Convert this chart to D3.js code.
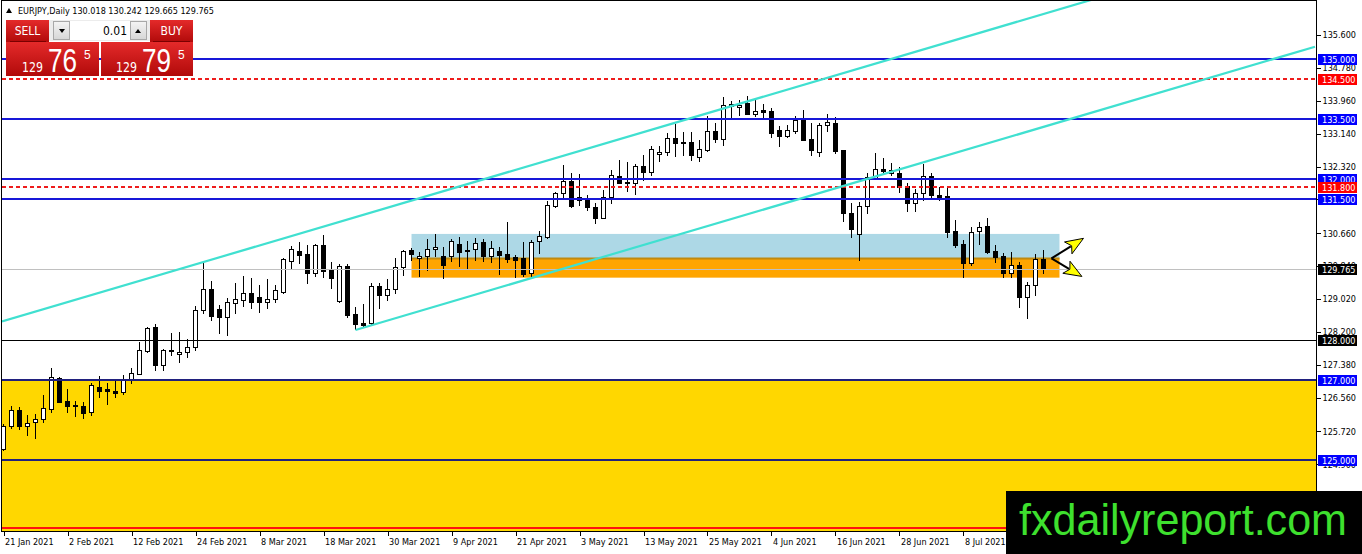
<!DOCTYPE html>
<html>
<head>
<meta charset="utf-8">
<script src="https://cdn.jsdelivr.net/npm/d3@7"></script>
<style>
html, body { margin: 0; padding: 0; background: #fff; overflow: hidden; }
svg { display: block; font-family: "DejaVu Sans Condensed", "DejaVu Sans", sans-serif; font-stretch: condensed; }
</style>
</head>
<body>
<svg id="chart" width="1362" height="554"></svg>
<script>
// daily EURJPY bars, 21 Jan 2021 .. 22 Jul 2021
var opens = [125.28,125.84,126.25,125.86,125.95,126.03,126.27,127.04,126.48,126.38,
  126.35,126.19,126.82,126.77,126.73,126.69,127.00,127.15,127.73,128.33,
  127.37,127.75,127.64,127.69,127.81,128.74,129.26,128.76,128.58,128.91,
  128.99,129.16,129.06,128.94,129.01,129.20,129.97,130.21,130.14,129.66,
  130.36,129.74,128.98,129.84,128.64,128.43,128.41,129.34,129.12,129.27,
  129.81,130.24,130.03,130.08,130.26,130.09,130.09,130.39,130.24,130.26,
  130.45,130.09,130.22,130.14,130.07,130.03,129.66,130.47,130.56,131.34,
  131.65,131.97,131.49,131.54,131.30,131.04,131.57,132.08,131.93,131.90,
  132.33,132.18,132.63,132.67,133.02,132.94,132.92,132.56,132.73,133.21,
  133.01,133.83,133.80,133.90,133.62,133.73,133.71,133.23,133.09,133.21,
  133.48,133.00,132.67,133.36,133.41,132.73,131.15,130.64,131.34,132.00,
  132.25,132.17,132.17,131.83,131.40,131.65,132.08,131.60,131.59,130.72,
  130.39,129.91,130.71,130.84,130.21,130.09,129.67,129.86,129.06,129.37,
  130.018];
var highs = [125.90,126.35,126.33,126.13,126.15,126.62,127.30,127.07,126.77,126.48,
  126.46,126.92,127.10,126.92,127.02,127.12,127.29,127.95,128.33,128.40,
  127.77,128.16,128.20,128.01,128.84,129.91,129.47,128.87,129.04,129.41,
  129.59,129.53,129.37,129.51,129.37,130.03,130.34,130.45,130.36,130.39,
  130.61,129.95,129.89,129.89,128.81,128.89,129.42,129.41,129.51,130.05,
  130.24,130.28,130.20,130.51,130.63,130.32,130.51,130.56,130.47,130.53,
  130.51,130.47,130.32,130.94,130.11,130.45,130.49,130.72,131.47,131.69,
  132.36,132.15,132.13,131.61,131.40,131.74,132.23,132.48,132.43,132.38,
  132.61,132.82,132.82,133.16,133.38,133.19,133.19,132.99,133.58,133.40,
  134.05,133.96,133.98,134.08,133.98,133.88,133.77,133.33,133.36,133.58,
  133.73,133.40,133.40,133.63,133.56,132.73,131.40,131.44,132.15,132.66,
  132.52,132.40,132.30,131.92,131.75,132.38,132.15,131.82,131.80,130.99,
  130.49,130.81,130.94,131.03,130.36,130.16,130.20,129.95,129.45,130.14,
  130.242];
var lows = [125.25,125.80,125.77,125.63,125.55,125.94,126.21,126.46,126.21,126.09,
  126.04,126.13,126.58,126.39,126.58,126.65,126.93,127.15,127.70,127.25,
  127.25,127.62,127.45,127.58,127.75,128.68,128.49,128.18,128.12,128.68,
  128.84,128.79,128.70,128.79,128.95,129.16,129.76,129.91,129.42,129.59,
  129.56,129.28,128.95,128.56,128.28,128.35,128.37,128.79,128.99,129.16,
  129.62,129.99,129.60,129.74,130.09,129.53,129.97,129.84,129.76,129.99,
  129.97,129.95,129.64,129.95,129.57,129.59,129.57,130.16,130.53,131.32,
  131.55,131.32,131.36,131.24,130.92,131.03,131.42,131.90,131.72,131.63,
  131.99,132.11,132.47,132.61,132.58,132.61,132.48,132.47,132.71,132.94,
  132.86,133.56,133.60,133.62,133.58,133.56,133.06,132.83,133.06,133.15,
  132.98,132.61,132.58,133.21,132.65,130.97,130.56,129.99,131.17,132.00,
  132.17,132.11,131.69,131.20,131.20,131.49,131.53,131.49,130.56,130.32,
  129.57,129.87,130.39,130.16,129.95,129.57,129.57,128.83,128.54,129.12,
  129.665];
var closes = [125.85,126.25,125.85,125.92,126.03,126.29,127.07,126.46,126.36,126.34,
  126.18,126.87,126.73,126.72,126.68,127.00,127.17,127.75,128.29,127.37,
  127.75,127.72,127.70,127.81,128.74,129.26,128.60,128.58,128.94,129.02,
  129.16,128.95,128.94,129.03,129.24,130.01,130.26,130.11,129.66,130.36,
  129.72,129.53,129.84,128.62,128.39,128.36,129.34,129.12,129.26,129.81,
  130.21,130.13,130.09,130.26,130.32,129.87,130.47,130.20,130.21,130.42,
  130.09,130.30,130.11,130.01,129.99,129.64,130.45,130.59,131.36,131.65,
  131.97,131.34,131.55,131.30,131.04,131.57,132.11,131.90,131.91,132.33,
  132.18,132.75,132.69,133.02,132.91,132.91,132.61,132.75,133.21,133.01,
  133.85,133.88,133.86,133.62,133.70,133.69,133.16,133.09,133.23,133.48,
  132.98,132.73,133.36,133.42,132.71,131.15,130.76,131.34,132.05,132.25,
  132.22,132.23,131.82,131.40,131.67,132.08,131.61,131.55,130.70,130.36,
  129.91,130.70,130.82,130.20,130.07,129.66,129.86,129.06,129.37,130.01,
  129.765];

var firstDay = new Date(Date.UTC(2021, 0, 21));
var dayAfterLast = new Date(Date.UTC(2021, 6, 23));

var priceTicks = [135.6, 134.78, 133.96, 133.14, 132.32, 131.5, 130.66, 129.84,
  129.02, 128.2, 127.38, 126.56, 125.72, 124.9];

var blueLevels = [135, 133.5, 132, 131.5];
var redLevels = [134.5, 131.8];
var blackLevels = [128];
var navyLevels = [127, 125];
var floorLevel = 123.3;
var bidPrice = 129.765;
var askPrice = 129.795;
var lotSize = "0.01";
var symbolName = "EURJPY,Daily";

var yellowZone = [127, 120];
var blueZone = [130.64, 130.03];
var orangeZone = [130.03, 129.55];
var zoneBars = [51, 132];

var upperChannel = [[25, 129.94], [145, 137.005]];
var lowerChannel = [[44, 128.245], [164, 135.31]];
var arrowFrom = [131, 130.03];
var arrowTips = [[135, 130.53], [134.8, 129.58]];

// ---------------------------------------------------------------
var svg = d3.select("#chart");
var L = 2, R = 1316, T = 1, B = 531;

var dates = d3.utcDay.range(firstDay, dayAfterLast).filter(function (d) {
  return d.getUTCDay() !== 0 && d.getUTCDay() !== 6;
});

var x = d3.scaleLinear().domain([-0.19, 163.94]).range([L, R - 1]);
var y = d3.scaleLinear().domain([136.4457, 123.2353]).range([T, B]);
var px = function (i) { return Math.floor(x(i)) + 0.5; };
var py = function (p) { return Math.round(y(p)) + 0.5; };

svg.append("defs").append("clipPath").attr("id", "plot")
  .append("rect").attr("x", L).attr("y", T).attr("width", R - L).attr("height", B - T);

var plot = svg.append("g").attr("clip-path", "url(#plot)");

// zones (background)
plot.append("rect")
  .attr("x", L).attr("width", R - L)
  .attr("y", y(yellowZone[0])).attr("height", y(yellowZone[1]) - y(yellowZone[0]))
  .attr("fill", "#ffd700");
plot.append("rect")
  .attr("x", x(zoneBars[0])).attr("width", x(zoneBars[1]) - x(zoneBars[0]))
  .attr("y", y(blueZone[0])).attr("height", y(blueZone[1]) - y(blueZone[0]))
  .attr("fill", "#add8e6");
plot.append("rect")
  .attr("x", x(zoneBars[0])).attr("width", x(zoneBars[1]) - x(zoneBars[0]))
  .attr("y", y(orangeZone[0])).attr("height", y(orangeZone[1]) - y(orangeZone[0]))
  .attr("fill", "#ffa500");
plot.append("line")
  .attr("x1", x(zoneBars[0])).attr("x2", x(zoneBars[1]))
  .attr("y1", y(orangeZone[0])).attr("y2", y(orangeZone[0]))
  .attr("stroke", "#c08a10").attr("stroke-width", 2);

// candles
var bars = d3.range(opens.length);
var candles = plot.append("g").attr("shape-rendering", "crispEdges");
candles.selectAll("line.wick").data(bars).enter().append("line")
  .attr("class", "wick")
  .attr("x1", px).attr("x2", px)
  .attr("y1", function (i) { return Math.round(y(highs[i])); })
  .attr("y2", function (i) { return Math.round(y(lows[i])) + 1; })
  .attr("stroke", "#000").attr("stroke-width", 1);
candles.selectAll("rect.body").data(bars).enter().append("rect")
  .attr("class", "body")
  .attr("x", function (i) { return px(i) - 2; })
  .attr("width", 4)
  .attr("y", function (i) { return py(Math.max(opens[i], closes[i])); })
  .attr("height", function (i) {
    return Math.max(1, py(Math.min(opens[i], closes[i])) - py(Math.max(opens[i], closes[i])));
  })
  .attr("fill", function (i) { return closes[i] >= opens[i] ? "#fff" : "#000"; })
  .attr("stroke", "#000").attr("stroke-width", 1);

// horizontal levels
function hline(p, color, width, dash) {
  var yy = width > 1 ? Math.round(y(p)) : py(p);
  var l = plot.append("line")
    .attr("x1", L).attr("x2", R)
    .attr("y1", yy).attr("y2", yy)
    .attr("stroke", color).attr("stroke-width", width)
    .attr("shape-rendering", "crispEdges");
  if (dash) l.attr("stroke-dasharray", dash);
}
hline(floorLevel, "#ff1010", 1.5);
hline(bidPrice, "#c0c0c0", 1);
blackLevels.forEach(function (p) { hline(p, "#000", 1); });
navyLevels.forEach(function (p) { hline(p, "#20207e", 2.5); });
blueLevels.forEach(function (p) { hline(p, "#1818d8", 2); });
redLevels.forEach(function (p) { hline(p, "#ee1c1c", 2, "4,3"); });

// channel lines
function ray(pts, fromLeft) {
  var k = (pts[1][1] - pts[0][1]) / (pts[1][0] - pts[0][0]);
  var i0 = fromLeft ? x.domain()[0] : pts[0][0];
  var i1 = x.domain()[1];
  plot.append("line")
    .attr("x1", x(i0)).attr("y1", y(pts[0][1] + k * (i0 - pts[0][0])))
    .attr("x2", x(i1)).attr("y2", y(pts[0][1] + k * (i1 - pts[0][0])))
    .attr("stroke", "#40e0d0").attr("stroke-width", 2.2);
}
ray(upperChannel, true);
ray(lowerChannel, false);

// arrows
arrowTips.forEach(function (tip) {
  var sx = x(arrowFrom[0]), sy = y(arrowFrom[1]);
  var tx = x(tip[0]), ty = y(tip[1]);
  var len = Math.hypot(tx - sx, ty - sy);
  var ux = (tx - sx) / len, uy = (ty - sy) / len;
  var bx = tx - ux * 18, by = ty - uy * 18;
  svg.append("line")
    .attr("x1", sx).attr("y1", sy).attr("x2", bx + ux * 3).attr("y2", by + uy * 3)
    .attr("stroke", "#000").attr("stroke-width", 2);
  svg.append("path")
    .attr("d", "M" + tx + "," + ty +
      "L" + (bx - uy * 7) + "," + (by + ux * 7) +
      "L" + (bx + ux * 4) + "," + (by + uy * 4) +
      "L" + (bx + uy * 7) + "," + (by - ux * 7) + "Z")
    .attr("fill", "#ffff00").attr("stroke", "#000").attr("stroke-width", 1);
});

// frame
svg.append("rect").attr("x", L - 0.5).attr("y", T - 0.5)
  .attr("width", R - L + 1).attr("height", B - T + 1)
  .attr("fill", "none").attr("stroke", "#000").attr("shape-rendering", "crispEdges");

// axes
var fmtDate = d3.utcFormat("%-d %b %Y");
var xAxis = svg.append("g").attr("transform", "translate(0," + (B + 0.5) + ")")
  .call(d3.axisBottom(x).tickValues(d3.range(0, 121, 8))
    .tickFormat(function (i) { return fmtDate(dates[i]); })
    .tickSize(4).tickSizeOuter(0).tickPadding(3));
xAxis.select(".domain").remove();
xAxis.selectAll(".tick line").attr("shape-rendering", "crispEdges");
xAxis.selectAll(".tick text").attr("text-anchor", "start").attr("x", 1)
  .attr("font-size", 9).attr("fill", "#000");
xAxis.attr("font-family", null);

var yAxis = svg.append("g").attr("transform", "translate(" + (R + 0.5) + ",0)")
  .call(d3.axisRight(y).tickValues(priceTicks).tickFormat(d3.format(".3f"))
    .tickSize(4).tickSizeOuter(0).tickPadding(2));
yAxis.select(".domain").remove();
yAxis.selectAll(".tick line").attr("shape-rendering", "crispEdges");
yAxis.selectAll(".tick text").attr("font-size", 9).attr("fill", "#000");
yAxis.attr("font-family", null);

// price tags on the right
function tag(p, bg) {
  var g = svg.append("g").attr("transform", "translate(" + (R + 2) + "," + Math.round(y(p)) + ")");
  g.append("rect").attr("x", 0).attr("y", -5).attr("width", 39).attr("height", 11).attr("fill", bg);
  g.append("text").attr("x", 4).attr("y", 0.5).attr("dy", "0.35em")
    .attr("font-size", 9).attr("fill", "#fff").text(d3.format(".3f")(p));
}
blueLevels.forEach(function (p) { tag(p, "#0000ff"); });
navyLevels.forEach(function (p) { tag(p, "#0000ff"); });
redLevels.forEach(function (p) { tag(p, "#ff0000"); });
blackLevels.forEach(function (p) { tag(p, "#000"); });
tag(bidPrice, "#000");

// title
var last = opens.length - 1;
svg.append("path").attr("d", "M6,13L12,13L9,8Z").attr("fill", "#000");
svg.append("text").attr("x", 18).attr("y", 11).attr("dy", "0.35em")
  .attr("font-size", 9).attr("fill", "#000")
  .text(symbolName + "  " + [opens[last], highs[last], lows[last], closes[last]]
    .map(d3.format(".3f")).join(" "));

// one-click trading panel
var defs = svg.select("defs");
var grad = defs.append("linearGradient").attr("id", "red").attr("x1", 0).attr("x2", 0).attr("y1", 0).attr("y2", 1);
grad.append("stop").attr("offset", "0%").attr("stop-color", "#e42a2a");
grad.append("stop").attr("offset", "100%").attr("stop-color", "#b10a0a");
var gray = defs.append("linearGradient").attr("id", "gray").attr("x1", 0).attr("x2", 0).attr("y1", 0).attr("y2", 1);
gray.append("stop").attr("offset", "0%").attr("stop-color", "#f4f4f4");
gray.append("stop").attr("offset", "100%").attr("stop-color", "#d6d6d6");

var panel = svg.append("g");
panel.append("rect").attr("x", 6).attr("y", 20).attr("width", 43).attr("height", 22).attr("fill", "url(#red)");
panel.append("rect").attr("x", 150).attr("y", 20).attr("width", 43).attr("height", 22).attr("fill", "url(#red)");
panel.append("rect").attr("x", 6).attr("y", 42).attr("width", 93).attr("height", 34).attr("fill", "url(#red)");
panel.append("rect").attr("x", 101).attr("y", 42).attr("width", 92).attr("height", 34).attr("fill", "url(#red)");
panel.append("line").attr("x1", 10).attr("x2", 46).attr("y1", 41.5).attr("y2", 41.5).attr("stroke", "#7a0000");
panel.append("line").attr("x1", 153).attr("x2", 190).attr("y1", 41.5).attr("y2", 41.5).attr("stroke", "#7a0000");
panel.append("rect").attr("x", 49).attr("y", 20).attr("width", 101).attr("height", 21).attr("fill", "#ececec");
panel.append("rect").attr("x", 53.5).attr("y", 21.5).attr("width", 16).attr("height", 18)
  .attr("fill", "url(#gray)").attr("stroke", "#a8a8a8");
panel.append("rect").attr("x", 130.5).attr("y", 21.5).attr("width", 16).attr("height", 18)
  .attr("fill", "url(#gray)").attr("stroke", "#a8a8a8");
panel.append("rect").attr("x", 70).attr("y", 21).attr("width", 60).attr("height", 19).attr("fill", "#fff");
panel.append("path").attr("d", "M59,29L65,29L62,33Z").attr("fill", "#000");
panel.append("path").attr("d", "M135,33L141,33L138,29Z").attr("fill", "#000");
panel.append("text").attr("x", 127).attr("y", 31).attr("dy", "0.35em").attr("text-anchor", "end")
  .attr("font-size", 12).attr("fill", "#000").text(lotSize);
panel.append("text").attr("x", 27.5).attr("y", 31).attr("dy", "0.35em").attr("text-anchor", "middle")
  .attr("font-size", 12).attr("fill", "#fff").text("SELL");
panel.append("text").attr("x", 171.5).attr("y", 31).attr("dy", "0.35em").attr("text-anchor", "middle")
  .attr("font-size", 12).attr("fill", "#fff").text("BUY");

function quote(p, x0) {
  var s = d3.format(".3f")(p).split(".");
  panel.append("text").attr("x", x0).attr("y", 72).attr("font-size", 14)
    .attr("textLength", 21).attr("lengthAdjust", "spacingAndGlyphs")
    .attr("fill", "#fff").text(s[0]);
  panel.append("text").attr("x", x0 + 26).attr("y", 72).attr("font-size", 34)
    .attr("textLength", 29).attr("lengthAdjust", "spacingAndGlyphs")
    .style("font-family", "'Liberation Sans', Arial, sans-serif")
    .attr("fill", "#fff").text(s[1].slice(0, 2));
  panel.append("text").attr("x", x0 + 62).attr("y", 59).attr("font-size", 12)
    .style("font-family", "'Liberation Sans', Arial, sans-serif")
    .attr("fill", "#fff").text(s[1].slice(2));
}
quote(bidPrice, 22);
quote(askPrice, 116);

// watermark
svg.append("rect").attr("x", 1006).attr("y", 491).attr("width", 356).attr("height", 63).attr("fill", "#000");
svg.append("text").attr("x", 1019).attr("y", 535).attr("font-size", 44)
  .attr("textLength", 328).attr("lengthAdjust", "spacingAndGlyphs")
  .style("font-family", "'Liberation Sans', Arial, sans-serif")
  .attr("fill", "#3ee02e").text("fxdailyreport.com");
</script>
</body>
</html>
